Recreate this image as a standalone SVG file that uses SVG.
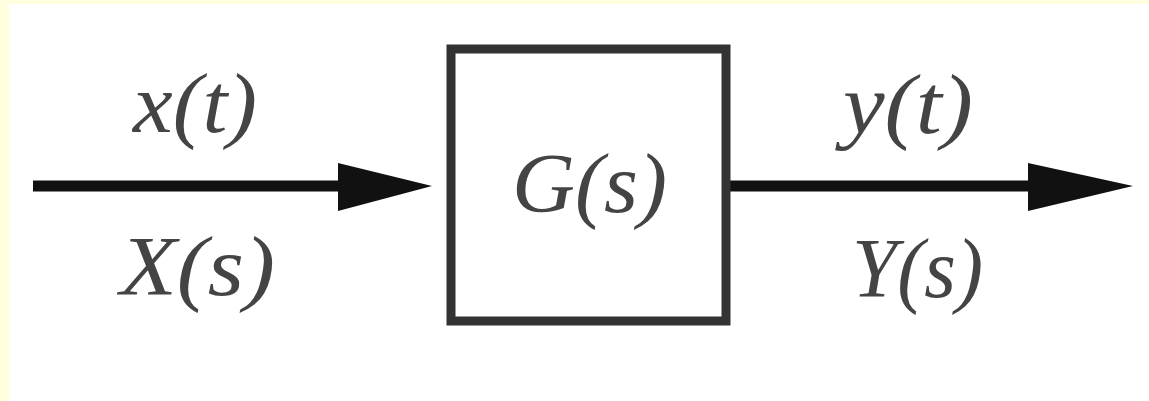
<svg xmlns="http://www.w3.org/2000/svg" width="1149" height="401" viewBox="0 0 1149 401">
  <style>
    .lbl { font-family: "Liberation Serif", "Times New Roman", "DejaVu Serif", serif; font-style: italic; font-weight: normal; font-size: 84px; fill: #444; }
    .wire { stroke: #111; stroke-width: 11; fill: none; }
    .head { fill: #111; }
    .box { fill: #fff; stroke: #333; stroke-width: 9; }
  </style>
  <rect x="0" y="0" width="1149" height="401" fill="#ffffe0"/>
  <rect x="9" y="4" width="1140" height="397" fill="#ffffff"/>
  <g id="connectors">
    <line class="wire" x1="33" y1="186" x2="345" y2="186"/>
    <polygon class="head" points="338,163 432,186 338,211"/>
    <line class="wire" x1="730" y1="186" x2="1035" y2="186"/>
    <polygon class="head" points="1028,163 1133,186 1028,211"/>
  </g>
  <g id="node-G">
    <rect class="box" x="451" y="49" width="275" height="272"/>
    <text class="lbl" x="512" y="212" textLength="155" lengthAdjust="spacingAndGlyphs">G(s)</text>
  </g>
  <g id="label-input">
    <text class="lbl" x="133" y="132" textLength="124" lengthAdjust="spacingAndGlyphs">x(t)</text>
    <text class="lbl" x="120" y="295" textLength="155" lengthAdjust="spacingAndGlyphs">X(s)</text>
  </g>
  <g id="label-output">
    <text class="lbl" x="843" y="133" textLength="130" lengthAdjust="spacingAndGlyphs">y(t)</text>
    <text class="lbl" x="852" y="297" textLength="131" lengthAdjust="spacingAndGlyphs">Y(s)</text>
  </g>
</svg>
